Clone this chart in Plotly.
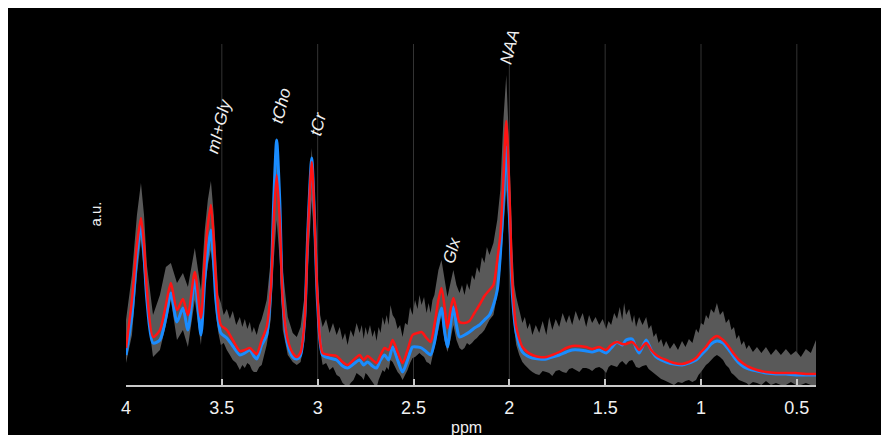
import plotly.graph_objects as go

# chemical shift axis (ppm) for the mean / second spectrum
ppm = [4.000, 3.969, 3.943, 3.922, 3.906, 3.891, 3.859, 3.823, 3.792, 3.766,
       3.734, 3.703, 3.677, 3.641, 3.609, 3.589, 3.573, 3.557, 3.542, 3.531,
       3.505, 3.474, 3.443, 3.406, 3.380, 3.354, 3.333, 3.318, 3.292, 3.266,
       3.245, 3.229, 3.214, 3.198, 3.182, 3.156, 3.130, 3.109, 3.089, 3.068,
       3.052, 3.031, 3.016, 3.000, 2.974, 2.938, 2.901, 2.870, 2.844, 2.813,
       2.781, 2.760, 2.740, 2.714, 2.693, 2.672, 2.651, 2.630, 2.609, 2.583,
       2.557, 2.531, 2.505, 2.479, 2.458, 2.432, 2.411, 2.391, 2.370, 2.354,
       2.339, 2.323, 2.307, 2.292, 2.276, 2.260, 2.234, 2.208, 2.182, 2.156,
       2.130, 2.104, 2.083, 2.063, 2.047, 2.031, 2.016, 2.000, 1.984, 1.964,
       1.932, 1.906, 1.880, 1.844, 1.807, 1.776, 1.740, 1.703, 1.672, 1.635,
       1.599, 1.568, 1.531, 1.495, 1.469, 1.438, 1.411, 1.391, 1.359, 1.339,
       1.323, 1.286, 1.260, 1.234, 1.208, 1.182, 1.141, 1.099, 1.063, 1.026,
       1.000, 0.974, 0.948, 0.917, 0.885, 0.854, 0.828, 0.802, 0.776, 0.750,
       0.708, 0.661, 0.609, 0.557, 0.505, 0.453, 0.400]

mean_red = [37, 85, 140, 167, 140, 95, 48, 55, 80, 102,
            75, 86, 70, 113, 67, 125, 160, 180, 145, 105,
            60, 55, 45, 34, 35, 37, 33, 31, 45, 58,
            95, 165, 210, 165, 85, 45, 32, 28, 33, 65,
            145, 223, 165, 85, 32, 30, 29, 23, 20, 25,
            30, 25, 29, 25, 22, 30, 37, 35, 45, 33,
            22, 35, 50, 52, 53, 47, 43, 60, 85, 97,
            80, 57, 75, 87, 75, 63, 62, 64, 72, 80,
            89, 95, 100, 125, 150, 205, 264, 195, 102, 58,
            38, 33, 30, 28, 28, 30, 33, 37, 39, 39,
            38, 36, 38, 35, 40, 43, 41, 41, 43, 39,
            35, 42, 35, 30, 27, 25, 22, 21, 23, 27,
            33, 38, 45, 49, 45, 38, 31, 25, 21, 18,
            15, 13, 12, 12, 12, 11, 11]

blue = [30, 70, 130, 160, 130, 85, 42, 45, 67, 92,
        63, 77, 55, 105, 50, 105, 135, 155, 120, 85,
        52, 47, 39, 30, 32, 35, 29, 26, 40, 50,
        95, 185, 245, 185, 85, 40, 28, 26, 30, 65,
        150, 227, 165, 80, 30, 27, 25, 19, 17, 21,
        25, 20, 23, 19, 17, 25, 30, 25, 38, 25,
        13, 25, 38, 38, 37, 33, 30, 42, 65, 77,
        55, 38, 60, 78, 60, 48, 50, 53, 57, 60,
        65, 70, 80, 95, 130, 185, 238, 175, 90, 52,
        33, 29, 27, 26, 26, 28, 30, 33, 35, 35,
        34, 33, 35, 32, 37, 43, 40, 45, 46, 37,
        32, 45, 35, 28, 25, 23, 21, 20, 22, 25,
        30, 35, 41, 44, 42, 35, 28, 22, 18, 16,
        14, 12, 11, 11, 10, 10, 10]

# spread band (grey), read on its own finer ppm grid, in four stretches
band_ppm_1 = [4.000, 3.969, 3.943, 3.922, 3.906, 3.891, 3.859, 3.823, 3.792, 3.766,
              3.734, 3.703, 3.677, 3.641, 3.609, 3.589, 3.573, 3.557, 3.542, 3.531,
              3.518, 3.505, 3.490, 3.474, 3.458, 3.443, 3.425, 3.406, 3.393, 3.380,
              3.367, 3.354, 3.343, 3.333, 3.318, 3.305, 3.292, 3.279, 3.266, 3.245,
              3.229, 3.214, 3.198, 3.182, 3.156, 3.130, 3.109, 3.089, 3.068, 3.052,
              3.031, 3.016, 3.000]
band_upper_1 = [65, 110, 170, 202, 170, 120, 70, 90, 118, 122,
                102, 112, 98, 137, 95, 155, 185, 204, 170, 135,
                90, 82, 70, 76, 66, 74, 60, 68, 58, 66,
                56, 63, 52, 58, 50, 60, 66, 75, 85, 125,
                195, 247, 195, 115, 68, 52, 48, 58, 90, 170,
                237, 185, 105]
band_lower_1 = [22, 50, 110, 145, 110, 75, 28, 35, 60, 85,
                45, 55, 38, 85, 40, 95, 120, 135, 105, 70,
                52, 40, 42, 35, 30, 25, 22, 15, 20, 17,
                22, 20, 15, 13, 13, 18, 20, 30, 40, 65,
                125, 165, 125, 55, 30, 23, 20, 23, 45, 115,
                185, 135, 60]

band_ppm_2 = [2.987, 2.974, 2.956, 2.938, 2.920, 2.901, 2.885, 2.870, 2.857, 2.844,
              2.828, 2.813, 2.797, 2.781, 2.770, 2.760, 2.750, 2.740, 2.727, 2.714,
              2.703, 2.693, 2.682, 2.672, 2.661, 2.651, 2.640, 2.630, 2.620, 2.609,
              2.596, 2.583, 2.570, 2.557, 2.544, 2.531, 2.518, 2.505, 2.492, 2.479,
              2.469, 2.458, 2.445, 2.432, 2.421, 2.411, 2.401, 2.391]
band_upper_2 = [70, 58, 66, 52, 62, 50, 58, 45, 52, 40,
                55, 48, 62, 52, 60, 46, 58, 50, 60, 48,
                55, 44, 58, 52, 68, 60, 70, 60, 80, 70,
                66, 56, 60, 48, 62, 60, 78, 70, 85, 76,
                90, 80, 88, 72, 82, 72, 85, 90]
band_lower_2 = [35, 20, 22, 15, 18, 10, 8, 2, 0, -3,
                2, 5, 12, 10, 8, 5, 12, 10, 6, 3,
                0, -3, 5, 10, 15, 13, 18, 15, 25, 23,
                18, 13, 10, 5, 10, 15, 22, 27, 28, 30,
                32, 30, 28, 23, 22, 20, 28, 35]

band_ppm_3 = [2.370, 2.354, 2.339, 2.323, 2.307, 2.292, 2.276, 2.260, 2.247, 2.234,
              2.221, 2.208, 2.195, 2.182, 2.169, 2.156, 2.143, 2.130, 2.117, 2.104,
              2.083, 2.063, 2.047, 2.031, 2.016, 2.000, 1.984]
band_upper_3 = [115, 125, 105, 88, 102, 115, 100, 92, 100, 90,
                102, 95, 110, 105, 118, 112, 128, 122, 138, 130,
                142, 165, 195, 265, 310, 235, 135]
band_lower_3 = [55, 70, 45, 33, 45, 60, 45, 37, 35, 37,
                42, 40, 42, 45, 47, 50, 52, 55, 60, 65,
                70, 90, 115, 155, 195, 145, 75]

band_ppm_4 = [1.974, 1.964, 1.948, 1.932, 1.919, 1.906, 1.893, 1.880, 1.862, 1.844,
              1.826, 1.807, 1.792, 1.776, 1.758, 1.740, 1.722, 1.703, 1.688, 1.672,
              1.654, 1.635, 1.617, 1.599, 1.584, 1.568, 1.550, 1.531, 1.513, 1.495,
              1.482, 1.469, 1.453, 1.438, 1.424, 1.411, 1.401, 1.391, 1.375, 1.359,
              1.349, 1.339, 1.323, 1.305, 1.286, 1.273, 1.260, 1.247, 1.234, 1.221,
              1.208, 1.195, 1.182, 1.162, 1.141, 1.120, 1.099, 1.081, 1.063, 1.045,
              1.026, 1.013, 1.000, 0.987, 0.974, 0.961, 0.948, 0.932, 0.917, 0.901,
              0.885, 0.870, 0.854, 0.841, 0.828, 0.815, 0.802, 0.789, 0.776, 0.763,
              0.750, 0.729, 0.708, 0.685, 0.661, 0.635, 0.609, 0.583, 0.557, 0.531,
              0.505, 0.479, 0.453, 0.427, 0.400]
band_upper_4 = [100, 88, 75, 62, 68, 56, 62, 50, 60, 52,
                64, 50, 68, 55, 66, 58, 72, 62, 70, 60,
                74, 64, 72, 58, 70, 62, 68, 60, 66, 56,
                64, 60, 72, 66, 78, 65, 82, 70, 76, 62,
                70, 58, 68, 60, 68, 56, 60, 48, 52, 42,
                46, 38, 44, 36, 42, 35, 44, 38, 46, 42,
                56, 52, 62, 60, 70, 66, 76, 72, 82, 70,
                74, 62, 66, 55, 58, 46, 50, 40, 44, 36,
                40, 33, 38, 32, 38, 30, 36, 30, 36, 30,
                34, 28, 36, 32, 45]
band_lower_4 = [55, 40, 30, 23, 20, 17, 15, 13, 11, 10,
                14, 13, 12, 9, 14, 15, 13, 12, 16, 17,
                15, 13, 17, 17, 16, 14, 17, 18, 16, 12,
                18, 20, 19, 18, 22, 24, 22, 20, 24, 25,
                22, 18, 17, 19, 20, 16, 14, 12, 10, 8,
                6, 5, 4, 2, 0, 3, 2, 4, 5, 3,
                5, 10, 13, 17, 20, 22, 25, 28, 30, 28,
                25, 20, 17, 12, 10, 7, 5, 4, 3, 2,
                0, 3, 2, 0, 4, 0, 2, 0, 0, 3,
                0, 0, 2, 0, 0]

band_ppm = band_ppm_1 + band_ppm_2 + band_ppm_3 + band_ppm_4
band_upper = band_upper_1 + band_upper_2 + band_upper_3 + band_upper_4
band_lower = band_lower_1 + band_lower_2 + band_lower_3 + band_lower_4

tick_vals = [4, 3.5, 3, 2.5, 2, 1.5, 1, 0.5]
tick_text = ["4", "3.5", "3", "2.5", "2", "1.5", "1", "0.5"]
grid_vals = [3.5, 3, 2.5, 2, 1.5, 1, 0.5]

peak_labels = ["mI+Gly", "tCho", "tCr", "Glx", "NAA"]
peak_label_ppm = [3.516, 3.193, 3.0, 2.302, 2.0]
peak_label_h = [259, 279, 261, 135, 338]

fig = go.Figure()
fig.add_trace(go.Scatter(x=band_ppm, y=band_lower, mode="lines", line=dict(width=0),
                         hoverinfo="skip", showlegend=False))
fig.add_trace(go.Scatter(x=band_ppm, y=band_upper, mode="lines", line=dict(width=0),
                         fill="tonexty", fillcolor="#595959", hoverinfo="skip", showlegend=False))
fig.add_trace(go.Scatter(x=ppm, y=blue, mode="lines",
                         line=dict(color="#1a8cff", width=3, shape="spline", smoothing=0.7),
                         showlegend=False))
fig.add_trace(go.Scatter(x=ppm, y=mean_red, mode="lines",
                         line=dict(color="#ff1414", width=2.5, shape="spline", smoothing=0.7),
                         showlegend=False))

shapes = []
for g in grid_vals:
    shapes.append(dict(type="line", xref="x", yref="paper", x0=g, x1=g, y0=0, y1=1,
                       line=dict(color="#333333", width=1), layer="below"))

annotations = []
for lab, px, ph in zip(peak_labels, peak_label_ppm, peak_label_h):
    annotations.append(dict(x=px, y=ph, xref="x", yref="y", text="<i>" + lab + "</i>",
                            showarrow=False, textangle=-76, xanchor="center", yanchor="middle",
                            font=dict(family="Liberation Sans, Arial", size=17, color="#f0f0f0")))
annotations.append(dict(x=-0.0449, y=0.5, xref="paper", yref="paper", text="a.u.",
                        showarrow=False, textangle=-90, xanchor="center", yanchor="middle",
                        font=dict(family="Liberation Sans, Arial", size=15, color="#f0f0f0")))
annotations.append(dict(x=0.494, y=-0.126, xref="paper", yref="paper", text="ppm",
                        showarrow=False, xanchor="center", yanchor="middle",
                        font=dict(family="Liberation Sans, Arial", size=16, color="#f0f0f0")))

fig.update_layout(
    width=889, height=435,
    margin=dict(l=118, r=81, t=36, b=58, pad=0),
    paper_bgcolor="black", plot_bgcolor="black",
    showlegend=False,
    shapes=shapes, annotations=annotations,
    xaxis=dict(range=[4, 0.4], autorange=False, tickvals=tick_vals, ticktext=tick_text,
               ticks="inside", ticklen=6, tickwidth=1.5, tickcolor="#c8c8c8",
               showline=True, linecolor="#c8c8c8", linewidth=1.5,
               showgrid=False, zeroline=False, ticklabelstandoff=6,
               tickfont=dict(family="Liberation Sans Narrow, Arial Narrow, Liberation Sans, Arial",
                             size=18, color="#f0f0f0")),
    yaxis=dict(range=[0, 341], autorange=False, visible=False, fixedrange=True),
)

fig.write_html("out.html")
